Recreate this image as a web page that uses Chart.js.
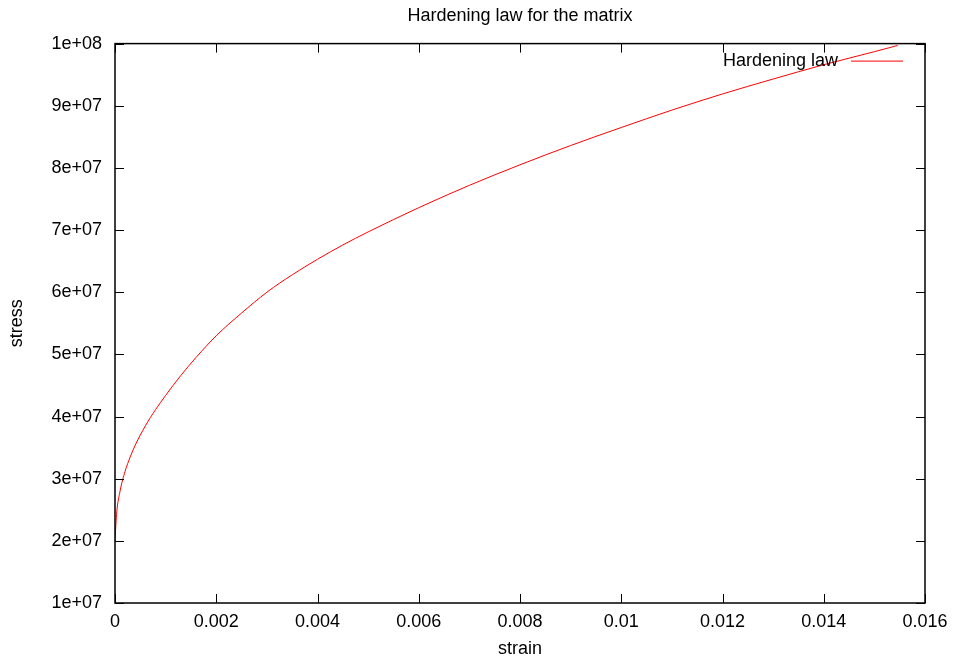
<!DOCTYPE html>
<html>
<head>
<meta charset="utf-8">
<script src="https://cdn.jsdelivr.net/npm/chart.js@4"></script>
<style>
html,body{margin:0;padding:0;background:#fff}
#wrap{width:956px;height:664px}
</style>
</head>
<body>
<div id="wrap"><canvas id="grafico"></canvas></div>
<script>
// valores
const strain=[0,0.00003,0.0001,0.0002,0.0003,0.0004,0.0006,0.0008,0.001,0.0013,0.0016,0.002,0.0025,0.003,0.0035,0.004,0.0045,0.005,0.006,0.007,0.008,0.009,0.010,0.011,0.012,0.013,0.014,0.015,0.01546]
const stress=[2.0e7,2.42e7,2.8e7,3.12e7,3.35e7,3.54e7,3.85e7,4.11e7,4.34e7,4.66e7,4.95e7,5.3e7,5.665e7,6.0e7,6.28e7,6.53e7,6.76e7,6.97e7,7.36e7,7.72e7,8.05e7,8.36e7,8.65e7,8.93e7,9.19e7,9.43e7,9.66e7,9.87e7,9.97e7]
const xTicks=[0,0.002,0.004,0.006,0.008,0.01,0.012,0.014,0.016]
const yTicks=[1e7,2e7,3e7,4e7,5e7,6e7,7e7,8e7,9e7,1e8]

const fonte="'Liberation Sans', Arial, sans-serif"

// borda e marcas para dentro, estilo gnuplot
const bordaGnuplot={
id:"bordaGnuplot",
afterDatasetsDraw(chart){
const ctx=chart.ctx
const a=chart.chartArea
const sx=chart.scales.x
const sy=chart.scales.y
ctx.save()
ctx.strokeStyle="#000"
ctx.lineWidth=1
const t=9
ctx.beginPath()
xTicks.forEach(v=>{
const px=Math.round(sx.getPixelForValue(v))+0.5
ctx.moveTo(px,a.bottom);ctx.lineTo(px,a.bottom-t)
ctx.moveTo(px,a.top);ctx.lineTo(px,a.top+t)
})
yTicks.forEach(v=>{
const py=Math.round(sy.getPixelForValue(v))+0.5
ctx.moveTo(a.left,py);ctx.lineTo(a.left+t,py)
ctx.moveTo(a.right,py);ctx.lineTo(a.right-t,py)
})
ctx.stroke()
ctx.lineWidth=1.5
ctx.strokeRect(a.left,a.top,a.right-a.left,a.bottom-a.top)
// legenda: texto a esquerda, linha a direita
const ds=chart.data.datasets[0]
const ly=a.top+17
const fim=a.right-22
ctx.font="18px "+fonte
ctx.fillStyle="#000"
ctx.textAlign="right"
ctx.textBaseline="middle"
ctx.fillText(ds.label,fim-65,ly)
ctx.strokeStyle=ds.borderColor
ctx.lineWidth=1
ctx.beginPath()
ctx.moveTo(fim-52,ly+0.5);ctx.lineTo(fim,ly+0.5)
ctx.stroke()
ctx.restore()
}
}

function fmtY(v){
return v.toExponential(0).replace(/e\+(\d)$/,"e+0$1")
}

new Chart(document.getElementById("grafico"),{
type:"scatter",
data:{
datasets:[{
label:"Hardening law",
data:strain.map((s,i)=>({x:s,y:stress[i]})),
showLine:true,
borderColor:"#ff0000",
borderWidth:1,
pointRadius:0,
cubicInterpolationMode:"monotone",
fill:false
}]
},
options:{
responsive:true,
maintainAspectRatio:false,
animation:false,
layout:{padding:{left:0,right:31,top:0,bottom:0}},
plugins:{
legend:{display:false},
tooltip:{enabled:false},
title:{
display:true,
fullSize:false,
text:"Hardening law for the matrix",
color:"#000",
font:{family:fonte,size:18,weight:"normal"},
padding:{top:5,bottom:17}
}
},
scales:{
x:{
type:"linear",
min:0,max:0.016,
afterBuildTicks(s){s.ticks=xTicks.map(v=>({value:v}))},
afterFit(s){s.height=61},
grid:{display:false,drawTicks:false},
border:{display:false},
ticks:{
padding:8,
color:"#000",
font:{family:fonte,size:18},
maxRotation:0,
callback:v=>String(parseFloat(v.toFixed(3)))
},
title:{
display:true,
text:"strain",
color:"#000",
font:{family:fonte,size:18},
padding:{top:0,bottom:4}
}
},
y:{
type:"linear",
min:1e7,max:1e8,
afterBuildTicks(s){s.ticks=yTicks.map(v=>({value:v}))},
afterFit(s){s.width=115},
grid:{display:false,drawTicks:false},
border:{display:false},
ticks:{
padding:13,
color:"#000",
font:{family:fonte,size:18},
callback:v=>fmtY(v)
},
title:{
display:true,
text:"stress",
color:"#000",
font:{family:fonte,size:18},
padding:{top:6,bottom:0}
}
}
}
},
plugins:[bordaGnuplot]
})
</script>
</body>
</html>
